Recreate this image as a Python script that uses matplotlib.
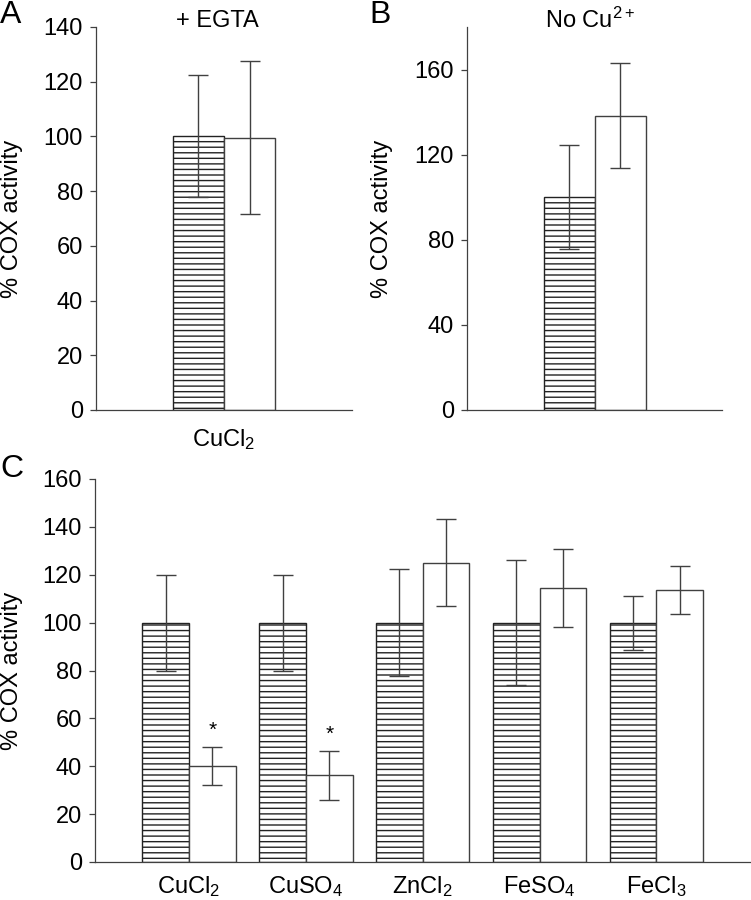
import numpy as np
import matplotlib
matplotlib.use('Agg')
import matplotlib.pyplot as plt

plt.rcParams['font.family'] = ['Liberation Sans', 'DejaVu Sans']
plt.rcParams['mathtext.fontset'] = 'custom'
plt.rcParams['mathtext.rm'] = 'Liberation Sans'
plt.rcParams['mathtext.it'] = 'Liberation Sans:italic'
plt.rcParams['hatch.linewidth'] = 1.0

# panel A: + EGTA
a_cats = ['CuCl$_2$']
a_ctrl = [100.0]
a_ctrl_err = [22.3]
a_metal = [99.5]
a_metal_err = [28.0]

# panel B: No Cu2+
b_ctrl = [100.0]
b_ctrl_err = [24.4]
b_metal = [138.3]
b_metal_err = [24.6]

# panel C
c_cats = ['CuCl$_2$', 'CuSO$_4$', 'ZnCl$_2$', 'FeSO$_4$', 'FeCl$_3$']
c_ctrl = [100.0, 100.0, 100.0, 100.0, 100.0]
c_ctrl_err = [20.0, 20.0, 22.4, 26.0, 11.3]
c_metal = [40.2, 36.3, 125.1, 114.4, 113.6]
c_metal_err = [7.9, 10.2, 18.2, 16.2, 10.1]
c_signif = [True, True, False, False, False]

W, H = 751, 900
fig = plt.figure(figsize=(W / 100, H / 100), dpi=100)

def px_axes(left, top, right, bottom):
    return fig.add_axes([left / W, 1 - bottom / H, (right - left) / W, (bottom - top) / H])

edge = '#404040'
fs = 17

def draw(ax, x, ctrl, ctrl_err, metal, metal_err):
    x = np.asarray(x, dtype=float)
    ax.bar(x - 0.2, ctrl, 0.4, color='white', edgecolor='#222222', hatch='---', linewidth=1.0, zorder=2)
    ax.bar(x + 0.2, metal, 0.4, color='white', edgecolor=edge, linewidth=1.0, zorder=2)
    ax.errorbar(x - 0.2, ctrl, yerr=ctrl_err, fmt='none', ecolor=edge, elinewidth=1.0, capsize=7, capthick=1.0, zorder=3)
    ax.errorbar(x + 0.2, metal, yerr=metal_err, fmt='none', ecolor=edge, elinewidth=1.0, capsize=7, capthick=1.0, zorder=3)
    for s in ['top', 'right']:
        ax.spines[s].set_visible(False)
    for s in ['left', 'bottom']:
        ax.spines[s].set_color(edge)
        ax.spines[s].set_linewidth(0.9)
    ax.tick_params(axis='y', direction='out', length=4.3, width=0.9, color=edge, labelsize=fs, pad=5)
    ax.tick_params(axis='x', length=0, labelsize=fs)
    ax.set_ylabel('% COX activity', fontsize=fs)

# A
axA = px_axes(96, 27, 352, 410)
draw(axA, [0], a_ctrl, a_ctrl_err, a_metal, a_metal_err)
axA.set_xlim(-1, 1)
axA.set_ylim(0, 140)
axA.set_yticks(np.arange(0, 141, 20))
axA.set_xticks([0])
axA.set_xticklabels(a_cats)
axA.tick_params(axis='x', pad=12)
axA.yaxis.set_label_coords(-0.285, 0.5)

# B
axB = px_axes(467, 27, 722, 410)
draw(axB, [0], b_ctrl, b_ctrl_err, b_metal, b_metal_err)
axB.set_xlim(-1, 1)
axB.set_ylim(0, 180)
axB.set_yticks(np.arange(0, 161, 40))
axB.set_xticks([])
axB.yaxis.set_label_coords(-0.29, 0.5)

# C
axC = px_axes(95, 479, 751, 862)
xc = np.arange(len(c_cats))
draw(axC, xc, c_ctrl, c_ctrl_err, c_metal, c_metal_err)
axC.set_xlim(-0.805, 4.81)
axC.set_ylim(0, 160)
axC.set_yticks(np.arange(0, 161, 20))
axC.set_xticks(xc)
axC.set_xticklabels(c_cats)
axC.tick_params(axis='x', pad=9)
axC.yaxis.set_label_coords(-0.11, 0.5)
for i, sig in enumerate(c_signif):
    if sig:
        axC.text(xc[i] + 0.2, c_metal[i] + c_metal_err[i] + 3, '*', ha='center', va='bottom', fontsize=15)

# titles and panel letters
fig.text(217 / W, 1 - 21 / H, '+ EGTA', ha='center', va='center', fontsize=fs)
fig.text(590 / W, 1 - 20 / H, 'No Cu$^{2+}$', ha='center', va='center', fontsize=fs)
fig.text(0 / W, 1 - 15 / H, 'A', ha='left', va='center', fontsize=23)
fig.text(369 / W, 1 - 15 / H, 'B', ha='left', va='center', fontsize=23)
fig.text(0 / W, 1 - 469 / H, 'C', ha='left', va='center', fontsize=23)

fig.savefig('out.png', dpi=100)
